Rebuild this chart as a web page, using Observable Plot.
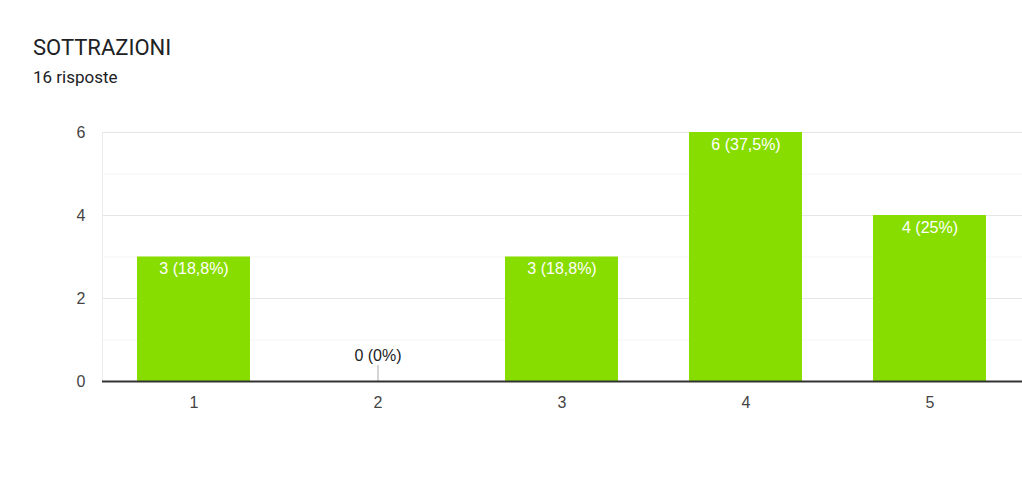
<!DOCTYPE html>
<html><head><meta charset="utf-8">
<script src="https://cdn.jsdelivr.net/npm/d3@7"></script>
<script src="https://cdn.jsdelivr.net/npm/@observablehq/plot@0.6"></script>
<style>
body{margin:0;background:#fff;font-family:Roboto,sans-serif;}
#title{position:absolute;left:33px;top:37px;font-size:22px;line-height:1;color:#202124;}
#sub{position:absolute;left:33px;top:69px;font-size:17px;line-height:1;color:#202124;}
#chart{position:absolute;left:0;top:100px;}
</style></head>
<body>
<div id="title">SOTTRAZIONI</div>
<div id="sub">16 risposte</div>
<div id="chart"></div>
<script>
const categories = ["1","2","3","4","5"];
const counts = [3,0,3,6,4];
const total = 16;
const majorTicks = [0,2,4,6];
const minorTicks = [1,3,5];

const fmtPct = v => {
  const p = Math.round(v/total*1000)/10;
  return String(p).replace(".", ",");
};
const data = categories.map((c,i)=>({cat:c, v:counts[i], label:`${counts[i]} (${fmtPct(counts[i])}%)`}));
const nonzero = data.filter(d=>d.v>0);
const zero = data.filter(d=>d.v===0);

const chart = Plot.plot({
  width:1022, height:340,
  marginLeft:102, marginRight:0, marginTop:32, marginBottom:59,
  style:{fontFamily:"Arial, 'Liberation Sans', sans-serif", fontSize:"16px", color:"#444"},
  x:{domain:categories, paddingInner:0.385, paddingOuter:0.1925, label:null, tickSize:0, tickPadding:15},
  y:{domain:[0,6], ticks:majorTicks, tickFormat:"d", label:null, tickSize:0, tickPadding:17},
  marks:[
    Plot.ruleY(minorTicks,{stroke:"#f4f4f4"}),
    Plot.ruleY(majorTicks.filter(t=>t>0),{stroke:"#e6e6e6"}),
    Plot.frame({anchor:"left", stroke:"#ebebeb"}),
    Plot.barY(nonzero,{x:"cat", y:"v", fill:"#88dd00"}),
    Plot.ruleX(zero,{x:"cat", y1:0, y2:0, insetTop:-16, stroke:"#aaa", strokeWidth:1}),
    Plot.ruleY([0],{stroke:"#333", strokeWidth:2}),
    Plot.text(nonzero,{x:"cat", y:"v", text:"label", fill:"white", dy:12, fontSize:16}),
    Plot.text(zero,{x:"cat", y:"v", text:"label", fill:"#222", dy:-26, fontSize:16})
  ]
});
document.getElementById("chart").appendChild(chart);
</script>
</body></html>
